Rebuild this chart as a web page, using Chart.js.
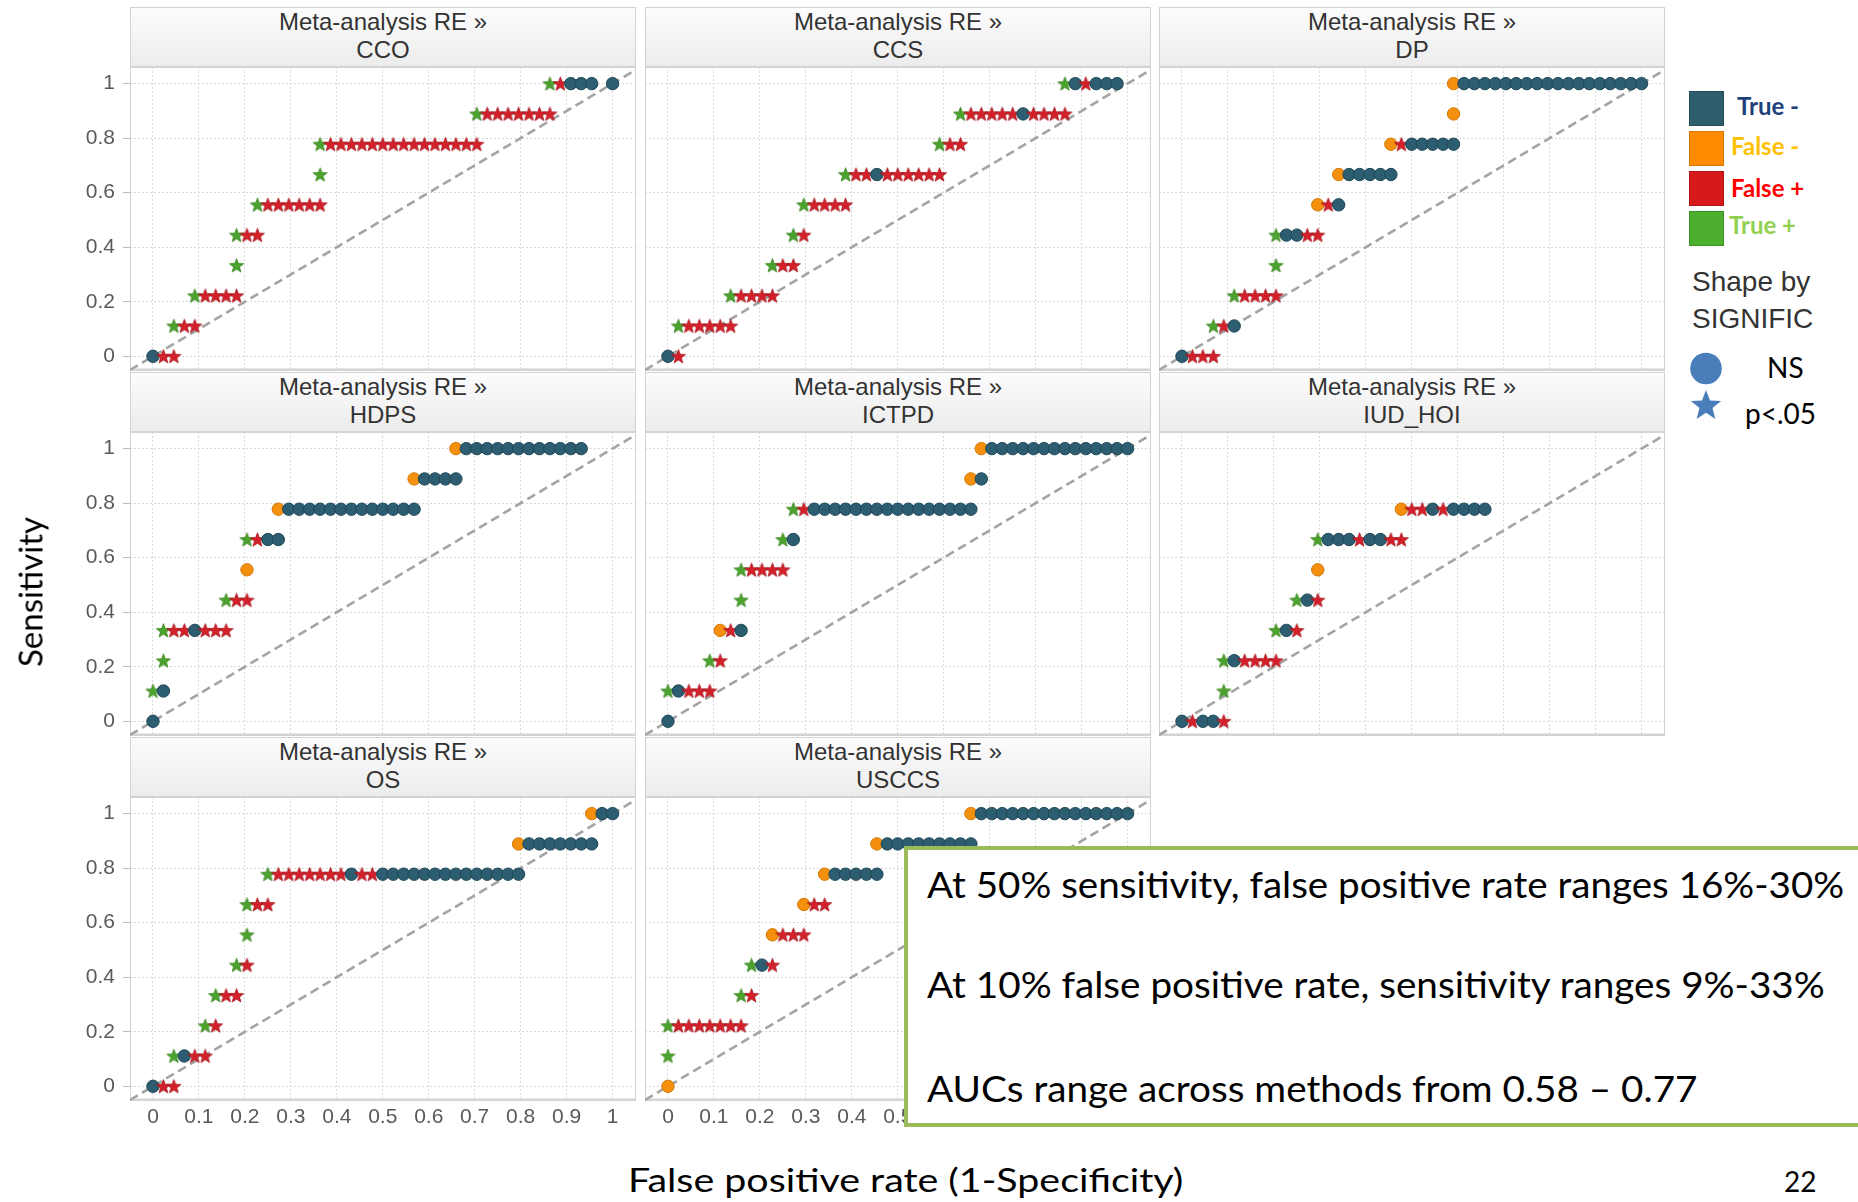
<!DOCTYPE html>
<html>
<head>
<meta charset="utf-8">
<script src="https://cdn.jsdelivr.net/npm/chart.js@4.4.1/dist/chart.umd.min.js"></script>
<style>
  body { margin: 0; background: #fff; }
  #page { position: relative; width: 1858px; height: 1202px; overflow: hidden; font-family: "Liberation Sans", Arial, sans-serif; }
  canvas { position: absolute; }
  .head { position: absolute; width: 506px; height: 60px; box-sizing: border-box; border: 1px solid #d2d2d2;
          background: linear-gradient(#fcfcfc, #ececec); color: #333; font-size: 24px; line-height: 28px; text-align: center; }
  .cal { position: absolute; white-space: nowrap; font-family: Lato, "Open Sans", sans-serif; color: #000; }
  .sq { position: absolute; left: 1689px; width: 35px; height: 35px; box-sizing: border-box; }
  #note { position: absolute; left: 904px; top: 846px; width: 1000px; height: 281px; box-sizing: border-box;
          border: 4px solid #9bbb59; background: #fff; z-index: 10; }
</style>
</head>
<body>
<div id="page"></div>
<script>
// type of each ROC step: true negative, false negative, false positive, true positive
const TN = 'tn', FN = 'fn', FP = 'fp', TP = 'tp';
// counts of controls: x = negatives passed / 44, y = positives found / 9
const nNeg = 44, nPos = 9;

const panelNames = ['CCO', 'CCS', 'DP', 'HDPS', 'ICTPD', 'IUD_HOI', 'OS', 'USCCS'];

const cco = [
  [0,0,TN],[1,0,FP],[2,0,FP],
  [2,1,TP],[3,1,FP],[4,1,FP],
  [4,2,TP],[5,2,FP],[6,2,FP],[7,2,FP],[8,2,FP],
  [8,3,TP],
  [8,4,TP],[9,4,FP],[10,4,FP],
  [10,5,TP],[11,5,FP],[12,5,FP],[13,5,FP],[14,5,FP],[15,5,FP],[16,5,FP],
  [16,6,TP],
  [16,7,TP],[17,7,FP],[18,7,FP],[19,7,FP],[20,7,FP],[21,7,FP],[22,7,FP],[23,7,FP],[24,7,FP],
  [25,7,FP],[26,7,FP],[27,7,FP],[28,7,FP],[29,7,FP],[30,7,FP],[31,7,FP],
  [31,8,TP],[32,8,FP],[33,8,FP],[34,8,FP],[35,8,FP],[36,8,FP],[37,8,FP],[38,8,FP],
  [38,9,TP],[39,9,FP],[40,9,TN],[41,9,TN],[42,9,TN],[44,9,TN]
];
const ccs = [
  [0,0,TN],[1,0,FP],
  [1,1,TP],[2,1,FP],[3,1,FP],[4,1,FP],[5,1,FP],[6,1,FP],
  [6,2,TP],[7,2,FP],[8,2,FP],[9,2,FP],[10,2,FP],
  [10,3,TP],[11,3,FP],[12,3,FP],
  [12,4,TP],[13,4,FP],
  [13,5,TP],[14,5,FP],[15,5,FP],[16,5,FP],[17,5,FP],
  [17,6,TP],[18,6,FP],[19,6,FP],[20,6,TN],[21,6,FP],[22,6,FP],[23,6,FP],[24,6,FP],[25,6,FP],[26,6,FP],
  [26,7,TP],[27,7,FP],[28,7,FP],
  [28,8,TP],[29,8,FP],[30,8,FP],[31,8,FP],[32,8,FP],[33,8,FP],[34,8,TN],[35,8,FP],[36,8,FP],[37,8,FP],[38,8,FP],
  [38,9,TP],[39,9,TN],[40,9,FP],[41,9,TN],[42,9,TN],[43,9,TN]
];
const dp = [
  [0,0,TN],[1,0,FP],[2,0,FP],[3,0,FP],
  [3,1,TP],[4,1,FP],[5,1,TN],
  [5,2,TP],[6,2,FP],[7,2,FP],[8,2,FP],[9,2,FP],
  [9,3,TP],
  [9,4,TP],[10,4,TN],[11,4,TN],[12,4,FP],[13,4,FP],
  [13,5,FN],[14,5,FP],[15,5,TN],
  [15,6,FN],[16,6,TN],[17,6,TN],[18,6,TN],[19,6,TN],[20,6,TN],
  [20,7,FN],[21,7,FP],[22,7,TN],[23,7,TN],[24,7,TN],[25,7,TN],[26,7,TN],
  [26,8,FN],
  [26,9,FN],[27,9,TN],[28,9,TN],[29,9,TN],[30,9,TN],[31,9,TN],[32,9,TN],[33,9,TN],[34,9,TN],[35,9,TN],
  [36,9,TN],[37,9,TN],[38,9,TN],[39,9,TN],[40,9,TN],[41,9,TN],[42,9,TN],[43,9,TN],[44,9,TN]
];
const hdps = [
  [0,0,TN],
  [0,1,TP],[1,1,TN],
  [1,2,TP],
  [1,3,TP],[2,3,FP],[3,3,FP],[4,3,TN],[5,3,FP],[6,3,FP],[7,3,FP],
  [7,4,TP],[8,4,FP],[9,4,FP],
  [9,5,FN],
  [9,6,TP],[10,6,FP],[11,6,TN],[12,6,TN],
  [12,7,FN],[13,7,TN],[14,7,TN],[15,7,TN],[16,7,TN],[17,7,TN],[18,7,TN],[19,7,TN],[20,7,TN],[21,7,TN],
  [22,7,TN],[23,7,TN],[24,7,TN],[25,7,TN],
  [25,8,FN],[26,8,TN],[27,8,TN],[28,8,TN],[29,8,TN],
  [29,9,FN],[30,9,TN],[31,9,TN],[32,9,TN],[33,9,TN],[34,9,TN],[35,9,TN],[36,9,TN],[37,9,TN],[38,9,TN],
  [39,9,TN],[40,9,TN],[41,9,TN]
];
const ictpd = [
  [0,0,TN],
  [0,1,TP],[1,1,TN],[2,1,FP],[3,1,FP],[4,1,FP],
  [4,2,TP],[5,2,FP],
  [5,3,FN],[6,3,FP],[7,3,TN],
  [7,4,TP],
  [7,5,TP],[8,5,FP],[9,5,FP],[10,5,FP],[11,5,FP],
  [11,6,TP],[12,6,TN],
  [12,7,TP],[13,7,FP],[14,7,TN],[15,7,TN],[16,7,TN],[17,7,TN],[18,7,TN],[19,7,TN],[20,7,TN],[21,7,TN],
  [22,7,TN],[23,7,TN],[24,7,TN],[25,7,TN],[26,7,TN],[27,7,TN],[28,7,TN],[29,7,TN],
  [29,8,FN],[30,8,TN],
  [30,9,FN],[31,9,TN],[32,9,TN],[33,9,TN],[34,9,TN],[35,9,TN],[36,9,TN],[37,9,TN],[38,9,TN],[39,9,TN],
  [40,9,TN],[41,9,TN],[42,9,TN],[43,9,TN],[44,9,TN]
];
const iudHoi = [
  [0,0,TN],[1,0,FP],[2,0,TN],[3,0,TN],[4,0,FP],
  [4,1,TP],
  [4,2,TP],[5,2,TN],[6,2,FP],[7,2,FP],[8,2,FP],[9,2,FP],
  [9,3,TP],[10,3,TN],[11,3,FP],
  [11,4,TP],[12,4,TN],[13,4,FP],
  [13,5,FN],
  [13,6,TP],[14,6,TN],[15,6,TN],[16,6,TN],[17,6,FP],[18,6,TN],[19,6,TN],[20,6,FP],[21,6,FP],
  [21,7,FN],[22,7,FP],[23,7,FP],[24,7,TN],[25,7,FP],[26,7,TN],[27,7,TN],[28,7,TN],[29,7,TN]
];
const os = [
  [0,0,TN],[1,0,FP],[2,0,FP],
  [2,1,TP],[3,1,TN],[4,1,FP],[5,1,FP],
  [5,2,TP],[6,2,FP],
  [6,3,TP],[7,3,FP],[8,3,FP],
  [8,4,TP],[9,4,FP],
  [9,5,TP],
  [9,6,TP],[10,6,FP],[11,6,FP],
  [11,7,TP],[12,7,FP],[13,7,FP],[14,7,FP],[15,7,FP],[16,7,FP],[17,7,FP],[18,7,FP],[19,7,TN],[20,7,FP],
  [21,7,FP],[22,7,TN],[23,7,TN],[24,7,TN],[25,7,TN],[26,7,TN],[27,7,TN],[28,7,TN],[29,7,TN],[30,7,TN],
  [31,7,TN],[32,7,TN],[33,7,TN],[34,7,TN],[35,7,TN],
  [35,8,FN],[36,8,TN],[37,8,TN],[38,8,TN],[39,8,TN],[40,8,TN],[41,8,TN],[42,8,TN],
  [42,9,FN],[43,9,TN],[44,9,TN]
];
const usccs = [
  [0,0,FN],
  [0,1,TP],
  [0,2,TP],[1,2,FP],[2,2,FP],[3,2,FP],[4,2,FP],[5,2,FP],[6,2,FP],[7,2,FP],
  [7,3,TP],[8,3,FP],
  [8,4,TP],[9,4,TN],[10,4,FP],
  [10,5,FN],[11,5,FP],[12,5,FP],[13,5,FP],
  [13,6,FN],[14,6,FP],[15,6,FP],
  [15,7,FN],[16,7,TN],[17,7,TN],[18,7,TN],[19,7,TN],[20,7,TN],
  [20,8,FN],[21,8,TN],[22,8,TN],[23,8,TN],[24,8,TN],[25,8,TN],[26,8,TN],[27,8,TN],[28,8,TN],[29,8,TN],
  [29,9,FN],[30,9,TN],[31,9,TN],[32,9,TN],[33,9,TN],[34,9,TN],[35,9,TN],[36,9,TN],[37,9,TN],[38,9,TN],
  [39,9,TN],[40,9,TN],[41,9,TN],[42,9,TN],[43,9,TN],[44,9,TN]
];
const panelData = [cco, ccs, dp, hdps, ictpd, iudHoi, os, usccs];

// reference diagonal (chance line)
const diagX = [-0.05, 1.05];
const diagY = [-0.05, 1.05];

// layout
const page = document.getElementById('page');
const colLeft = [130, 645, 1159];
const rowTop = [67, 432, 797];
const plotW = 506, plotH = 304;

Chart.defaults.font.family = '"Liberation Sans", Arial, sans-serif';
Chart.defaults.font.size = 21;

function starImg(fill, edge, ro, ri) {
  const s = Math.ceil(ro * 2 + 2);
  const c = document.createElement('canvas');
  c.width = s; c.height = s;
  const g = c.getContext('2d');
  g.beginPath();
  for (let i = 0; i < 10; i++) {
    const a = -Math.PI / 2 + i * Math.PI / 5;
    const rr = i % 2 ? ri : ro;
    g.lineTo(s / 2 + rr * Math.cos(a), s / 2 + 0.6 + rr * Math.sin(a));
  }
  g.closePath();
  g.fillStyle = fill; g.fill();
  g.strokeStyle = edge; g.lineWidth = 0.8; g.stroke();
  return c;
}

const look = {
  tn: { shape: 'circle', r: 6.2, fill: '#2c5d70', edge: '#1f4757' },
  fn: { shape: 'circle', r: 6.2, fill: '#f5900f', edge: '#d27806' },
  fp: { shape: starImg('#d4202a', '#a5161d', 7.4, 3.1), r: 7, fill: '#d4202a', edge: '#a5161d' },
  tp: { shape: starImg('#4ba32d', '#3a8421', 7.4, 3.1), r: 7, fill: '#4ba32d', edge: '#3a8421' }
};

const frame = {
  id: 'frame',
  beforeDatasetsDraw(chart, args, opts) {
    if (!opts.on) return;
    const { left, top, right, bottom } = chart.chartArea;
    const g = chart.ctx;
    g.save();
    g.strokeStyle = '#d3d3d3'; g.lineWidth = 1;
    g.strokeRect(left + 0.5, top + 0.5, right - left - 1, bottom - top - 1);
    g.strokeStyle = '#d4d4d4'; g.lineWidth = 2.5;
    g.beginPath(); g.moveTo(left, bottom - 1.25); g.lineTo(right, bottom - 1.25); g.stroke();
    g.restore();
  }
};

function makePanel(r, c, pts, showPlot) {
  const padL = c === 0 ? 130 : 0, padB = r === 2 ? 40 : 0;
  const cv = document.createElement('canvas');
  cv.width = plotW + padL; cv.height = plotH + padB;
  cv.style.left = (colLeft[c] - padL) + 'px';
  cv.style.top = rowTop[r] + 'px';
  page.appendChild(cv);

  const datasets = [];
  if (showPlot) {
    datasets.push({
      data: pts.map(p => ({ x: p[0] / nNeg, y: p[1] / nPos })),
      pointStyle: pts.map(p => look[p[2]].shape),
      pointRadius: pts.map(p => look[p[2]].r),
      pointBackgroundColor: pts.map(p => look[p[2]].fill),
      pointBorderColor: pts.map(p => look[p[2]].edge),
      pointBorderWidth: 1,
      showLine: false,
      order: 0
    });
    datasets.push({
      type: 'line',
      data: diagX.map((x, i) => ({ x: x, y: diagY[i] })),
      borderColor: '#a4a4a4', borderWidth: 2.6, borderDash: [9, 5],
      pointRadius: 0, fill: false, order: 1
    });
  }

  new Chart(cv, {
    type: 'scatter',
    data: { datasets: datasets },
    plugins: [frame],
    options: {
      responsive: false, animation: false, devicePixelRatio: 1, events: [],
      layout: { padding: 0, autoPadding: false },
      plugins: { legend: { display: false }, tooltip: { enabled: false }, frame: { on: showPlot } },
      scales: {
        x: {
          type: 'linear', min: -0.05, max: 1.051,
          ticks: { stepSize: 0.1, includeBounds: false, maxTicksLimit: 20, autoSkip: false, maxRotation: 0,
                   display: r === 2, color: '#5a5a5a', padding: 4, font: { size: 21 },
                   callback: v => String(Math.round(v * 10) / 10) },
          grid: { display: showPlot, color: '#d9d9d9', lineWidth: 1, drawTicks: false },
          border: { display: false, dash: [2, 2] },
          afterFit: s => { s.height = padB; s.paddingLeft = 0; s.paddingRight = 0; }
        },
        y: {
          type: 'linear', min: -0.054, max: 1.061,
          ticks: { stepSize: 0.2, includeBounds: false, maxTicksLimit: 20, display: c === 0 && showPlot,
                   color: '#5a5a5a', padding: 8, font: { size: 21 },
                   callback: v => String(Math.round(v * 10) / 10) },
          grid: { display: showPlot, color: '#d9d9d9', lineWidth: 1, drawTicks: c === 0, tickLength: 7,
                  tickColor: '#bdbdbd' },
          border: { display: false, dash: [2, 2] },
          afterFit: s => { s.width = padL; s.paddingTop = 0; s.paddingBottom = 0; }
        }
      }
    }
  });
}

panelNames.forEach((name, i) => {
  const r = Math.floor(i / 3), c = i % 3;
  const h = document.createElement('div');
  h.className = 'head';
  h.style.left = colLeft[c] + 'px';
  h.style.top = (rowTop[r] - 60) + 'px';
  h.innerHTML = 'Meta-analysis RE »<br>' + name;
  page.appendChild(h);
  makePanel(r, c, panelData[i], true);
});
// empty cell: only the shared x axis labels
makePanel(2, 2, [], false);

// texts
function addText(txt, css) {
  const d = document.createElement('div');
  d.className = 'cal';
  d.textContent = txt;
  Object.assign(d.style, css);
  page.appendChild(d);
  return d;
}

const fitList = [];
addText('Sensitivity', { left: '30px', top: '592px', fontSize: '33px', lineHeight: '33px',
  transform: 'translate(-50%,-50%) rotate(-90deg)' });
const xlab = addText('False positive rate (1-Specificity)', { top: '1163px', fontSize: '33px', lineHeight: '33px' });
fitList.push([xlab, 555, 905]);
addText('22', { left: '1784px', top: '1167px', fontSize: '28px', lineHeight: '28px' });

// note box
const note = document.createElement('div');
note.id = 'note';
page.appendChild(note);
const noteLines = [
  ['At 50% sensitivity, false positive rate ranges 16%-30%', 866, 917],
  ['At 10% false positive rate, sensitivity ranges 9%-33%', 966, 898],
  ['AUCs range across methods from 0.58 \u2013 0.77', 1070, 770]
];
noteLines.forEach(l => {
  const d = addText(l[0], { left: '927px', top: l[1] + 'px', fontSize: '36px', lineHeight: '36px', zIndex: 11 });
  fitList.push([d, l[2], null]);
});

// legend
const legendItems = [
  ['True -', '#2e5e6e', '#244b58', '#1f3f7a', 91, 92.5, 1737],
  ['False -', '#ff8c00', '#d97700', '#ffc000', 131, 132.5, 1731],
  ['False +', '#d7191c', '#b01316', '#ff0000', 171, 174.5, 1731],
  ['True +', '#4caf2d', '#3c8f22', '#92d050', 211, 211.5, 1729]
];
legendItems.forEach(it => {
  const s = document.createElement('div');
  s.className = 'sq';
  s.style.top = it[4] + 'px';
  s.style.background = it[1];
  s.style.border = '1px solid ' + it[2];
  page.appendChild(s);
  addText(it[0], { left: it[6] + 'px', top: it[5] + 'px', fontSize: '24px', lineHeight: '25px',
    fontWeight: 'bold', color: it[3] });
});
const shapeCss = { fontFamily: '"Liberation Sans", Arial, sans-serif', fontSize: '28px', lineHeight: '28px',
  color: '#333', left: '1692px' };
addText('Shape by', Object.assign({ top: '268px' }, shapeCss));
addText('SIGNIFIC', Object.assign({ top: '305px' }, shapeCss));
const shp = document.createElement('div');
shp.innerHTML = '<svg width="60" height="80" style="position:absolute;left:1676px;top:345px">' +
  '<circle cx="30" cy="23.5" r="15.8" fill="#4a7ebb"/>' +
  '<polygon id="lstar" fill="#4a7ebb"/></svg>';
page.appendChild(shp);
const pts = [];
for (let i = 0; i < 10; i++) {
  const a = -Math.PI / 2 + i * Math.PI / 5, rr = i % 2 ? 6.8 : 16;
  pts.push((30 + rr * Math.cos(a)).toFixed(1) + ',' + (61 + rr * Math.sin(a)).toFixed(1));
}
document.getElementById('lstar').setAttribute('points', pts.join(' '));
addText('NS', { left: '1767px', top: '353px', fontSize: '28px', lineHeight: '28px' });
addText('p<.05', { left: '1745px', top: '399px', fontSize: '28px', lineHeight: '28px' });

// squeeze Calibri-like lines to their measured widths
function fitAll() {
  fitList.forEach(f => {
    const el = f[0], w = el.offsetWidth;
    el.style.transformOrigin = '0 0';
    el.style.transform = 'scaleX(' + (f[1] / w) + ')';
    if (f[2] !== null) el.style.left = (f[2] - f[1] / 2) + 'px';
  });
}
fitAll();
if (document.fonts && document.fonts.ready) document.fonts.ready.then(fitAll);
</script>
</body>
</html>
